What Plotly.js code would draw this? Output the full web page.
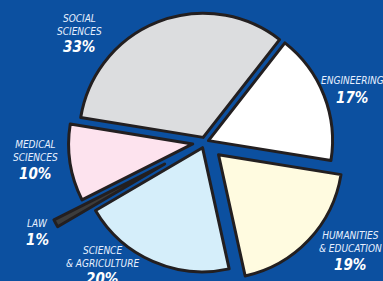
<!DOCTYPE html>
<html>
<head>
<meta charset="utf-8">
<script src="https://cdn.plot.ly/plotly-3.0.1.min.js"></script>
<style>
html,body{margin:0;padding:0;background:#0c50a0;overflow:hidden;width:383px;height:281px;}
#wrap{position:absolute;left:0;top:-28px;}
</style>
</head>
<body>
<div id="wrap"><div id="chart"></div></div>
<script>
var categories = ['Engineering', 'Humanities & Education', 'Science & Agriculture', 'Law', 'Medical Sciences', 'Social Sciences'];
var values = [17, 19, 20, 1, 10, 33];
var labelLines = ['ENGINEERING', 'HUMANITIES<br>& EDUCATION', 'SCIENCE<br>& AGRICULTURE', 'LAW', 'MEDICAL<br>SCIENCES', 'SOCIAL<br>SCIENCES'];
var sliceColors = ['#ffffff', '#fffbe0', '#d5eefa', '#3c3c3c', '#fde3ee', '#dcdddf'];
var pulls = [0.03, 0.15, 0.05, 0.37, 0.1, 0.04];

var W = 383, H = 340, T = -28;
function px(x){ return x / W; }
function py(y){ return 1 - (y - T) / H; }

var labelPos = [
  {x: 352, name: 80, pct: 98},
  {x: 350, name: 242, pct: 265},
  {x: 102, name: 257, pct: 279},
  {x: 37, name: 223, pct: 240},
  {x: 35, name: 151, pct: 174},
  {x: 79, name: 25, pct: 47}
];

var fam = '"Liberation Sans Narrow", "DejaVu Sans Condensed", "Arial Narrow", sans-serif';
var annotations = [];
for (var i = 0; i < categories.length; i++) {
  var p = labelPos[i];
  annotations.push({
    xref: 'paper', yref: 'paper', x: px(p.x), y: py(p.name),
    xanchor: 'center', yanchor: 'middle', showarrow: false,
    text: labelLines[i],
    font: {family: fam, size: 10, color: '#e8f0ff', style: 'italic'}
  });
  annotations.push({
    xref: 'paper', yref: 'paper', x: px(p.x), y: py(p.pct),
    xanchor: 'center', yanchor: 'middle', showarrow: false,
    text: values[i] + '%',
    font: {family: fam, size: 15, color: '#ffffff', style: 'italic', weight: 'bold'}
  });
}

var trace = {
  type: 'pie',
  labels: categories,
  values: values,
  sort: false,
  direction: 'clockwise',
  rotation: 38,
  pull: pulls,
  textinfo: 'none',
  hoverinfo: 'none',
  showlegend: false,
  marker: {colors: sliceColors, line: {color: '#231f20', width: 3}},
  domain: {x: [0.0914, 0.9791], y: [0, 1]}
};

Plotly.newPlot('chart', [trace], {
  width: W, height: H,
  margin: {l: 0, r: 0, t: 0, b: 0},
  paper_bgcolor: '#0c50a0',
  plot_bgcolor: '#0c50a0',
  showlegend: false,
  annotations: annotations
}, {displayModeBar: false, staticPlot: true});
</script>
</body>
</html>
